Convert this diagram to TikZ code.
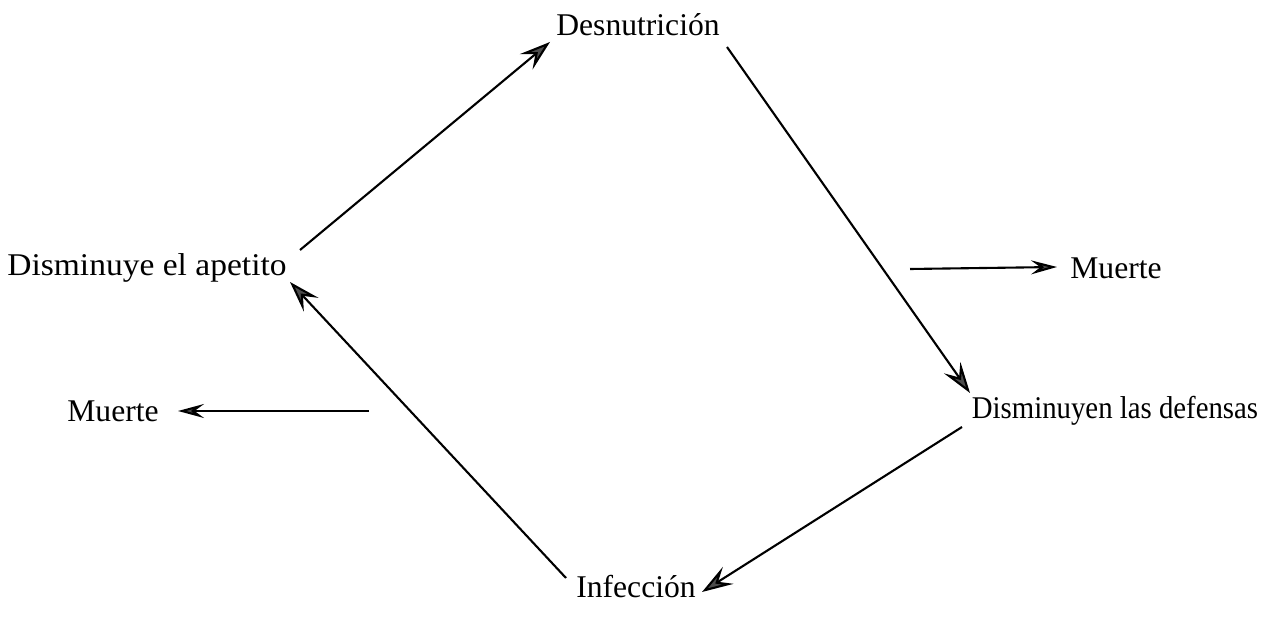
\documentclass[tikz,border=0pt]{standalone}
\usepackage{fontspec}
\setmainfont{Liberation Serif}
\usetikzlibrary{arrows.meta}
\tikzset{
  lbl/.style={inner sep=0pt, font=\fontsize{18}{22}\selectfont},
  arr/.style={line width=1.2pt, -{Stealth[length=0.62cm, width=0.4cm, inset=0.24cm, fill=black!70]}},
  harr/.style={line width=1.2pt, -{Stealth[length=0.52cm, width=0.28cm, inset=0.19cm, fill=black!70]}}
}
\begin{document}
\begin{tikzpicture}[x=0.02cm, y=-0.02cm]
\useasboundingbox (0,0) rectangle (1271,617);
\node[lbl] (desn) at (638,25) {Desnutrición};
\node[lbl] (apet) at (147,268) {\scalebox{1.06}[1]{Disminuye el apetito}};
\node[lbl] (def) at (1115,411) {\scalebox{0.91}[1]{Disminuyen las defensas}};
\node[lbl] (inf) at (636,587) {Infección};
\node[lbl] (mr) at (1116,268) {Muerte};
\node[lbl] (ml) at (113,411) {Muerte};
\coordinate (mrs) at (910,269);
\coordinate (mls) at (369,411);
\draw[arr] ([shift={(153,-18)}]apet.center) -- ([shift={(-88,17)}]desn.center);
\draw[arr] ([shift={(89,22)}]desn.center) -- ([shift={(-145,-18)}]def.center);
\draw[arr] ([shift={(-153,16)}]def.center) -- ([shift={(66,5)}]inf.center);
\draw[arr] ([shift={(-70,-9)}]inf.center) -- ([shift={(143,14)}]apet.center);
\draw[harr] (mrs) -- ([shift={(-59,-1)}]mr.center);
\draw[harr] (mls) -- ([shift={(65,0)}]ml.center);
\end{tikzpicture}
\end{document}
